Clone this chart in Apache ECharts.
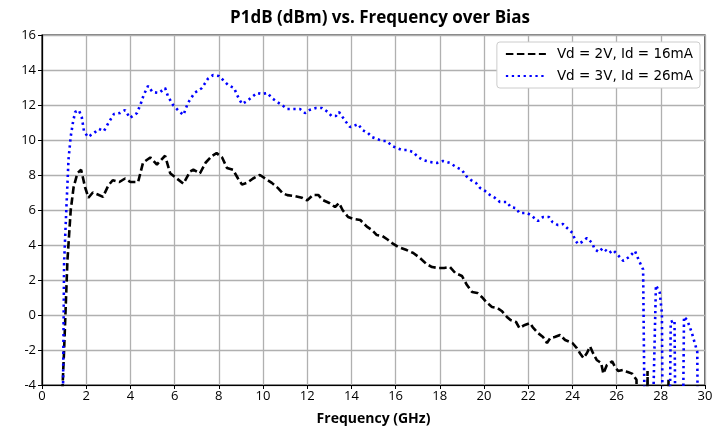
<!DOCTYPE html>
<html>
<head>
<meta charset="utf-8">
<script src="https://cdn.jsdelivr.net/npm/echarts@6/dist/echarts.min.js"></script>
<style>html,body{margin:0;padding:0;background:#fff;}#c{width:727px;height:431px;}</style>
</head>
<body>
<div id="c"></div>
<script>
// Vd = 2V, Id = 16mA
var freq2V = [0.9,1.0,1.15,1.3,1.43,1.6,1.77,1.95,2.1,2.3,2.5,2.76,3.0,3.2,3.5,3.76,4.0,4.35,4.57,4.9,5.2,5.57,5.8,6.1,6.4,6.7,6.85,7.15,7.4,7.7,7.9,8.15,8.37,8.64,8.87,9.05,9.27,9.55,9.86,10.1,10.4,10.68,10.9,11.1,11.4,11.76,12.0,12.26,12.5,12.7,13.0,13.26,13.44,13.6,13.85,14.07,14.4,14.7,14.93,15.15,15.4,15.65,15.84,16.1,16.5,16.8,17.1,17.4,17.65,17.9,18.2,18.46,18.7,19.0,19.23,19.46,19.7,19.9,20.1,20.36,20.6,20.8,21.04,21.2,21.45,21.6,21.85,22.08,22.2,22.44,22.67,22.85,23.0,23.2,23.44,23.67,24.0,24.2,24.35,24.5,24.66,24.8,24.93,25.1,25.3,25.4,25.56,25.8,25.93,26.07,26.3,26.5,26.7,26.9,27.05,27.3,27.4,27.5,28.2,28.35,28.5,29.9];
var p1dB2V = [-5,-2,3.1,6.0,7.3,8.1,8.3,7.3,6.7,7.0,6.9,6.75,7.4,7.7,7.6,7.8,7.6,7.6,8.7,9.0,8.6,9.1,8.1,7.8,7.5,8.2,8.3,8.1,8.7,9.1,9.25,9.0,8.4,8.3,7.8,7.45,7.55,7.8,8.0,7.8,7.55,7.25,6.95,6.85,6.8,6.7,6.55,6.86,6.86,6.57,6.4,6.17,6.4,6.0,5.6,5.5,5.43,5.05,4.86,4.57,4.51,4.3,4.11,3.9,3.71,3.54,3.26,2.91,2.74,2.69,2.69,2.74,2.4,2.23,1.71,1.31,1.26,1.03,0.74,0.46,0.4,0.23,-0.11,-0.29,-0.4,-0.74,-0.57,-0.46,-0.69,-1.03,-1.26,-1.6,-1.31,-1.26,-1.14,-1.43,-1.6,-1.89,-2.2,-2.46,-2.17,-1.8,-2.17,-2.57,-2.74,-3.35,-2.86,-2.65,-2.97,-3.2,-3.14,-3.26,-3.35,-3.7,-20,-20,-3.2,-20,-20,-3.7,-20,-20];
// Vd = 3V, Id = 26mA
var freq3V = [0.9,1.0,1.1,1.2,1.3,1.4,1.5,1.67,1.8,1.9,2.08,2.35,2.58,2.8,3.03,3.26,3.53,3.76,3.98,4.3,4.48,4.6,4.8,5.0,5.3,5.57,5.7,5.93,6.15,6.4,6.6,6.9,7.24,7.5,7.74,8.0,8.24,8.42,8.69,8.87,9.05,9.28,9.5,9.73,9.95,10.2,10.4,10.65,10.86,11.1,11.36,11.67,11.9,12.1,12.4,12.67,12.94,13.1,13.3,13.44,13.6,13.76,13.94,14.1,14.3,14.5,14.75,14.93,15.15,15.4,15.6,15.84,16.06,16.3,16.5,16.8,17.0,17.24,17.56,17.87,18.14,18.46,18.73,19.0,19.19,19.41,19.64,19.82,20.05,20.27,20.5,20.72,20.9,21.04,21.2,21.45,21.6,21.95,22.17,22.44,22.67,22.94,23.1,23.35,23.57,23.76,24.0,24.12,24.25,24.43,24.66,24.9,25.0,25.2,25.38,25.47,25.66,25.84,26.06,26.3,26.56,26.83,27.0,27.2,27.38,27.45,27.78,27.95,28.05,28.15,28.3,28.45,28.62,28.75,28.9,29.05,29.2,29.4,29.65,29.75];
var p1dB3V = [-12,3.0,6.0,8.9,10.2,11.0,11.6,11.7,11.3,10.5,10.17,10.4,10.63,10.51,11.03,11.49,11.54,11.71,11.26,11.54,12.11,12.57,13.09,12.74,12.69,12.97,12.5,12.0,11.71,11.43,12.11,12.69,12.97,13.49,13.71,13.66,13.37,13.14,12.97,12.46,12.06,12.23,12.46,12.69,12.63,12.69,12.4,12.17,12.0,11.77,11.77,11.77,11.54,11.71,11.83,11.83,11.6,11.37,11.37,11.6,11.31,11.03,10.74,10.8,10.91,10.57,10.4,10.17,10.06,9.94,9.94,9.66,9.54,9.43,9.43,9.31,9.03,8.86,8.74,8.69,8.8,8.69,8.46,8.29,7.94,7.71,7.54,7.26,7.09,6.86,6.69,6.46,6.46,6.46,6.17,6.11,5.83,5.83,5.66,5.37,5.6,5.6,5.31,5.14,5.2,4.97,4.69,4.29,4.06,4.17,4.4,4.11,3.77,3.6,3.83,3.83,3.54,3.71,3.43,3.09,3.31,3.66,3.14,2.6,-20,-20,1.7,1.3,0.1,-20,-20,-0.4,-0.3,-20,-20,-0.1,-0.3,-1.0,-2.1,-20];
var xTicks = [0,2,4,6,8,10,12,14,16,18,20,22,24,26,28,30];
var yTicks = [-4,-2,0,2,4,6,8,10,12,14,16];

function pairs(xs, ys){ return xs.map(function(x,i){ return [x, ys[i]]; }); }

var chart = echarts.init(document.getElementById('c'), null, {renderer:'canvas'});
chart.setOption({
  animation: false,
  backgroundColor: '#fff',
  title: {
    text: 'P1dB (dBm) vs. Frequency over Bias',
    left: 375, top: 5, textAlign: 'center',
    textStyle: {fontFamily: 'Open Sans', fontWeight: 'bold', fontSize: 17, color: '#000'}
  },
  legend: {
    right: 27, top: 42, orient: 'vertical',
    itemWidth: 40, itemHeight: 10, itemGap: 8,
    backgroundColor: '#fff', borderColor: '#cccccc', borderWidth: 1, borderRadius: 3,
    padding: [5, 7, 5, 8],
    itemStyle: {color: 'rgba(0,0,0,0)', borderWidth: 0, opacity: 0},
    textStyle: {fontFamily: 'DejaVu Sans', fontSize: 13.5, color: '#000', padding: [0,0,0,6]},
    data: ['Vd = 2V, Id = 16mA', 'Vd = 3V, Id = 26mA']
  },
  grid: {left: 42, right: 22, top: 35, bottom: 46, show: true, borderColor: '#000', borderWidth: 1.2, containLabel: false},
  xAxis: {
    type: 'value', min: xTicks[0], max: xTicks[xTicks.length-1], interval: 2,
    name: 'Frequency (GHz)', nameLocation: 'middle', nameGap: 27,
    nameTextStyle: {fontFamily: 'Open Sans', fontWeight: 'bold', fontSize: 14, color: '#000'},
    axisLine: {show: true, onZero: false, lineStyle: {color: '#000', width: 1.2}},
    axisTick: {show: true, length: 4, lineStyle: {color: '#000'}},
    axisLabel: {fontFamily: 'Open Sans', fontSize: 13, color: '#000', margin: 5},
    splitLine: {show: true, lineStyle: {color: '#b0b0b0', width: 1.3}}
  },
  yAxis: {
    type: 'value', min: yTicks[0], max: yTicks[yTicks.length-1], interval: 2,
    axisLine: {show: true, onZero: false, lineStyle: {color: '#000', width: 1.2}},
    axisTick: {show: true, length: 4, lineStyle: {color: '#000'}},
    axisLabel: {fontFamily: 'Open Sans', fontSize: 13, color: '#000', margin: 6},
    splitLine: {show: true, lineStyle: {color: '#b0b0b0', width: 1.3}}
  },
  series: [
    {
      name: 'Vd = 2V, Id = 16mA', type: 'line', data: pairs(freq2V, p1dB2V),
      symbol: 'none', clip: true, z: 3,
      lineStyle: {color: '#000', width: 2.6, type: [7.5, 3.5], cap: 'butt'},
      itemStyle: {color: '#000'}
    },
    {
      name: 'Vd = 3V, Id = 26mA', type: 'line', data: pairs(freq3V, p1dB3V),
      symbol: 'none', clip: true, z: 3,
      lineStyle: {color: '#0000ff', width: 2.6, type: [2.3, 3.6], cap: 'butt'},
      itemStyle: {color: '#0000ff'}
    }
  ]
});
</script>
</body>
</html>
